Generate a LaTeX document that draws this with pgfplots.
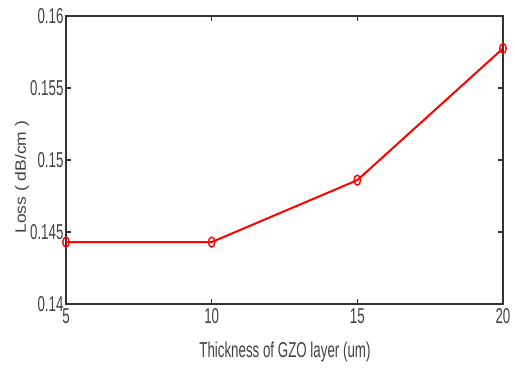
\documentclass[border=0pt]{standalone}
\usepackage{fontspec}
\setmainfont{Liberation Sans}[FakeStretch=0.62]
\newfontfamily\ylfont{Liberation Sans}
\usepackage{pgfplots}
\pgfplotsset{compat=1.18}
\definecolor{txt}{HTML}{404040}
\definecolor{ax}{HTML}{333333}
\begin{document}
\begin{tikzpicture}
\useasboundingbox (-66pt,-64pt) rectangle (449pt,304pt);
\begin{axis}[
  at={(0,0)}, anchor=south west,
  scale only axis,
  width=437pt, height=288pt,
  xmin=5, xmax=20, ymin=0.14, ymax=0.16,
  xtick={5,10,15,20},
  ytick={0.14,0.145,0.15,0.155,0.16},
  yticklabels={0.14,0.145,0.15,0.155,0.16},
  scaled y ticks=false,
  /pgf/number format/assume math mode=true,
  tick align=inside,
  major tick length=5pt,
  axis line style={ax, line width=1.6pt},
  tick style={ax, line width=1.2pt},
  every tick label/.append style={font=\fontsize{21.5}{23}\selectfont, text=txt},
  yticklabel style={xshift=1pt},
  xticklabel style={yshift=-1pt},
  xlabel={Thickness of GZO layer (um)},
  ylabel={\scalebox{1}[0.86]{\ylfont Loss ( dB/cm )}},
  xlabel style={font=\fontsize{21.5}{23}\selectfont, text=txt, at={(axis description cs:0.501,-0.167)}, anchor=center},
  ylabel style={font=\fontsize{17.5}{20}\selectfont, text=txt, at={(axis description cs:-0.101,0.44)}, anchor=center, rotate=0},
]
\addplot[red, line width=2pt, mark=o, mark size=5pt, mark options={xscale=0.65, line width=1.4pt}]
  coordinates {(5,0.1443) (10,0.1443) (15,0.1486) (20,0.15775)};
\end{axis}
\end{tikzpicture}
\end{document}
